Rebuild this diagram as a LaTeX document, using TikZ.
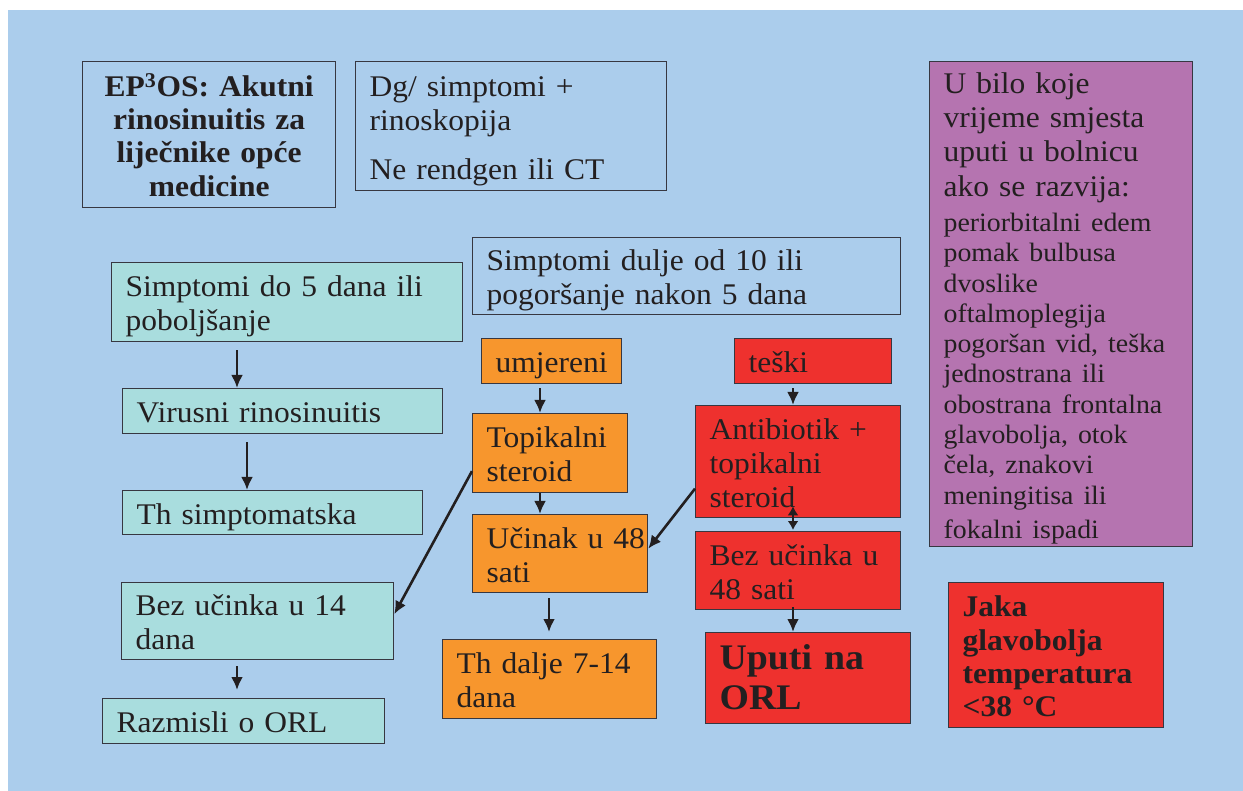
\documentclass[tikz,border=0pt]{standalone}
\usepackage{fontspec}
\setmainfont[FakeStretch=1.05]{Liberation Serif}
\usetikzlibrary{arrows.meta}
\definecolor{bgblue}{RGB}{171,205,236}
\definecolor{cyanc}{RGB}{169,221,222}
\definecolor{orangec}{RGB}{247,150,45}
\definecolor{redc}{RGB}{238,49,46}
\definecolor{purplec}{RGB}{181,116,176}
\definecolor{bordc}{RGB}{55,55,65}
\definecolor{txt}{RGB}{35,31,32}
\begin{document}
\begin{tikzpicture}[x=1pt,y=-1pt,
  bx/.style={draw=bordc, line width=1.3pt, inner xsep=14pt, inner ysep=0pt, align=left,
    anchor=north west, font=\fontsize{30}{34}\selectfont, text=txt,
    execute at begin node={\rule{0pt}{30pt}},
    execute at end node={\rule[-7pt]{0pt}{7pt}}},
  arr/.style={draw=txt, line width=2.6pt, -{Latex[length=13pt,width=12pt]}},
  darr/.style={draw=txt, line width=2.6pt, {Latex[length=9pt,width=11pt]}-{Latex[length=9pt,width=11pt]}}
]
\useasboundingbox (0,0) rectangle (1243,791);
\fill[white] (0,0) rectangle (1243,791);
\fill[bgblue] (8,10) rectangle (1243,791);

% top boxes
\node[bx, align=center, font=\fontsize{30}{33.4}\selectfont\bfseries, minimum width=253pt, text width=225pt, minimum height=146pt] (ep) at (82,61)
  {EP\textsuperscript{3}OS: Akutni\\rinosinuitis za\\liječnike opće\\medicine};
\node[bx, minimum width=311pt, text width=283pt, minimum height=129pt] (dg) at (355,61)
  {Dg/ simptomi +\\rinoskopija\\[15pt]Ne rendgen ili CT};
\node[bx, minimum width=428pt, text width=400pt, minimum height=77pt] (dulje) at (472,237)
  {Simptomi dulje od 10 ili\\pogoršanje nakon 5 dana};

% left column
\node[bx, fill=cyanc, minimum width=351pt, text width=323pt, minimum height=79pt] (s5) at (111,262)
  {Simptomi do 5 dana ili\\poboljšanje};
\node[bx, fill=cyanc, minimum width=320pt, text width=292pt, minimum height=45pt] (vr) at (122,388)
  {Virusni rinosinuitis};
\node[bx, fill=cyanc, minimum width=300pt, text width=272pt, minimum height=44pt] (ths) at (122,490)
  {Th simptomatska};
\node[bx, fill=cyanc, minimum width=272pt, text width=244pt, minimum height=77pt] (b14) at (121,582)
  {Bez učinka u 14\\dana};
\node[bx, fill=cyanc, minimum width=282pt, text width=254pt, minimum height=45pt] (raz) at (102,698)
  {Razmisli o ORL};

% middle column
\node[bx, fill=orangec, minimum width=140pt, text width=112pt, minimum height=45pt] (umj) at (481,338)
  {umjereni};
\node[bx, fill=orangec, minimum width=155pt, text width=127pt, minimum height=79pt] (top) at (472,413)
  {Topikalni\\steroid};
\node[bx, fill=orangec, minimum width=175pt, text width=147pt, minimum height=78pt] (uc) at (472,514)
  {\mbox{Učinak u 48}\hfill\\sati};
\node[bx, fill=orangec, minimum width=214pt, text width=186pt, minimum height=79pt] (thd) at (442,639)
  {Th dalje 7-14\\dana};

% right column
\node[bx, fill=redc, minimum width=157pt, text width=129pt, minimum height=45pt] (tes) at (734,338)
  {teški};
\node[bx, fill=redc, minimum width=205pt, text width=177pt, minimum height=112pt] (ab) at (695,405)
  {Antibiotik +\\topikalni\\steroid};
\node[bx, fill=redc, minimum width=205pt, text width=177pt, minimum height=78pt] (b48) at (695,531)
  {Bez učinka u\\48 sati};
\node[bx, fill=redc, font=\fontsize{36}{40}\selectfont\bfseries, minimum width=205pt, text width=177pt, minimum height=91pt] (up) at (705,632)
  {Uputi na\\ORL};

% far right
\node[bx, fill=purplec, minimum width=263pt, text width=235pt, minimum height=485pt] (pur) at (929,61)
  {{\fontsize{30}{34}\selectfont U bilo koje\\vrijeme smjesta\\uputi u bolnicu\\[1pt]ako se razvija:\par}
   \vspace{5pt}\fontsize{26.5}{30.3}\selectfont periorbitalni edem\\pomak bulbusa\\dvoslike\\oftalmoplegija\\pogoršan vid, teška\\jednostrana ili\\obostrana frontalna\\glavobolja, otok\\čela, znakovi\\meningitisa ili\\fokalni ispadi};
\node[bx, fill=redc, font=\fontsize{30}{33.3}\selectfont\bfseries, minimum width=215pt, text width=187pt, minimum height=145pt] (jaka) at (948,582)
  {Jaka\\glavobolja\\temperatura\\<38 °C};

% arrow x positions
\coordinate (xa) at (237,0);
\coordinate (xb) at (247,0);
\coordinate (xc) at (540,0);
\coordinate (xd) at (549,0);
\coordinate (xe) at (793,0);

\draw[arr] ([yshift=-8pt]s5.south -| xa) -- (vr.north -| xa);
\draw[arr] ([yshift=-8pt]vr.south -| xb) -- (ths.north -| xb);
\draw[arr, shorten >=8pt] ([yshift=-6pt]b14.south -| xa) -- (raz.north -| xa);
\draw[arr] ([yshift=-4pt]umj.south -| xc) -- (top.north -| xc);
\draw[arr] (top.south -| xc) -- (uc.north -| xc);
\draw[arr, shorten >=7pt] ([yshift=-5pt]uc.south -| xd) -- (thd.north -| xd);
\draw[arr] ([yshift=-4pt]tes.south -| xe) -- (ab.north -| xe);
\draw[darr] ([yshift=12pt]ab.south -| xe) -- ([yshift=1pt]b48.north -| xe);
\draw[arr] ([yshift=3pt]b48.south -| xe) -- (up.north -| xe);
\draw[arr] ([yshift=-18pt]top.west) -- ([yshift=7pt]b14.east);
\draw[arr] ([yshift=-27pt]ab.west) -- ([yshift=5pt]uc.east);
\end{tikzpicture}
\end{document}
